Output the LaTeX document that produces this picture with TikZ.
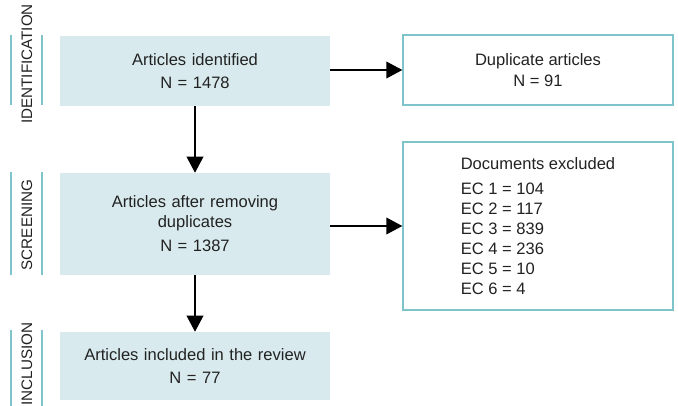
\documentclass[tikz,border=0pt]{standalone}
\usepackage{fontspec}
\setmainfont{Liberation Sans}
\usetikzlibrary{arrows.meta}
\definecolor{boxfill}{HTML}{D8EAED}
\definecolor{teal1}{HTML}{7FC3CB}
\definecolor{txt}{HTML}{222222}
\tikzset{
  filledbox/.style={fill=boxfill, draw=none, minimum width=202.5pt, text width=195pt, align=center, inner sep=0pt,
    font=\fontsize{12.4}{15}\selectfont, text=txt},
  outlinebox/.style={draw=teal1, line width=1pt, fill=white, minimum width=202.5pt, inner sep=0pt,
    font=\fontsize{12.4}{15}\selectfont, text=txt},
  arr/.style={line width=1.1pt, -{Triangle[length=12pt,width=12.5pt]}},
  sideline/.style={draw=teal1, line width=1.2pt},
  sidetext/.style={rotate=90, font=\fontsize{11.4}{12}\selectfont, text=txt, inner sep=0pt}
}
\begin{document}
\begin{tikzpicture}[x=0.75pt,y=-0.75pt]
\path[use as bounding box, fill=white] (0,0) rectangle (678,406);
\begin{scope}
\clip (0,0) rectangle (678,406);
% side labels
\draw[sideline] (11,35) -- (11,105);
\draw[sideline] (42,35) -- (42,105);
\node[sidetext] (lid) at (27,64) {IDENTIFICATION};
\draw[sideline] (11,172) -- (11,275);
\draw[sideline] (42,172) -- (42,275);
\node[sidetext] (lsc) at (27,225) {SCREENING};
\draw[sideline] (11,330) -- (11,406);
\draw[sideline] (42,330) -- (42,406);
\node[sidetext] (lin) at (27,364) {INCLUSION};
\end{scope}
% boxes
\node[filledbox, minimum height=52.5pt] (b1) at (195,71) {Articles identified\\[2.5pt]N = 1478};
\node[filledbox, minimum height=76.5pt] (b2) at (195,224) {Articles after removing\\duplicates\\[3pt]N = 1387};
\node[filledbox, minimum height=51pt] (b3) at (195,366) {Articles included in the review\\[2pt]N = 77};
\node[outlinebox, minimum height=52.5pt, align=center] (d1) at (538,70) {Duplicate articles\\[1pt]N = 91};
\node[outlinebox, minimum height=126pt, align=left] (d2) at (538,226) {Documents excluded\\[3.75pt]EC 1 = 104\\EC 2 = 117\\EC 3 = 839\\EC 4 = 236\\EC 5 = 10\\EC 6 = 4};
% arrows
\draw[arr] (b1) -- (b2);
\draw[arr] (b2) -- (b3);
\draw[arr] (b1.east |- d1.west) -- (d1.west);
\draw[arr] (b2.east |- d2.west) -- (d2.west);
\end{tikzpicture}
\end{document}
